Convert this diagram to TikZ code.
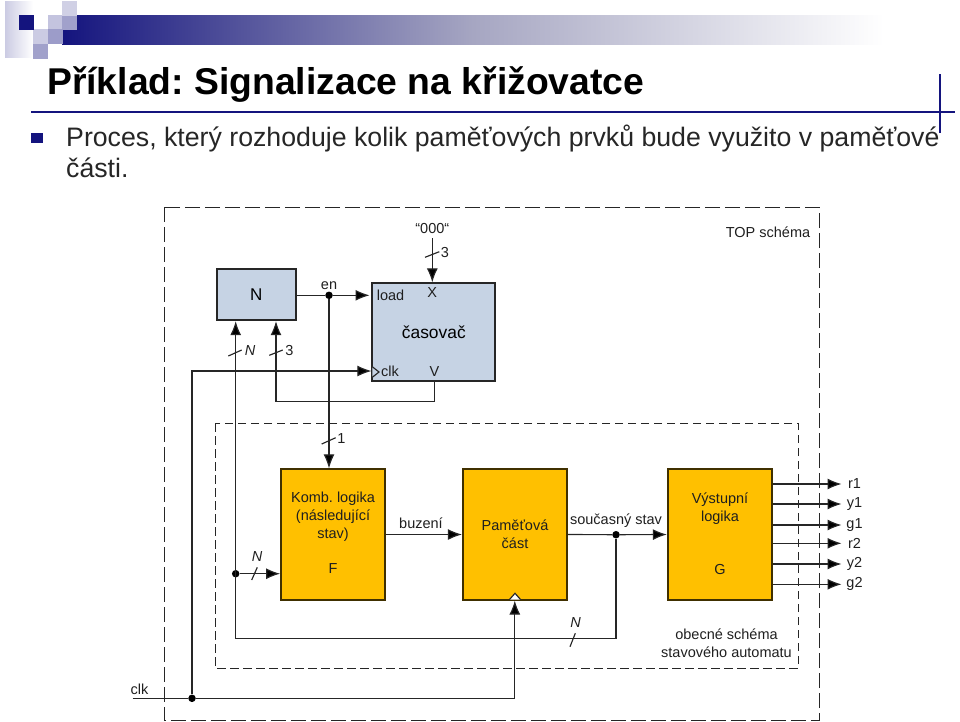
\documentclass[tikz,border=0pt]{standalone}
\usepackage{xcolor}
\usepackage{fontspec}
\setmainfont{Liberation Sans}
\frenchspacing
\usetikzlibrary{arrows.meta, positioning}

\definecolor{slidenavy}{HTML}{14147E}
\definecolor{bandmid}{HTML}{A6A6C2}
\definecolor{counterblue}{HTML}{C6D3E4}
\definecolor{logicorange}{HTML}{FFC000}
\definecolor{wiregray}{HTML}{262626}

\begin{document}
\begin{tikzpicture}[
    x=1pt, y=-1pt,
    block/.style={
        rectangle,
        draw=black!85,
        line width=1.8pt,
        inner sep=0pt,
        align=center
    },
    bluebox/.style={block, fill=counterblue},
    orangebox/.style={block, fill=logicorange, draw=black!75!logicorange, minimum width=104pt, minimum height=130.4pt},
    lbl/.style={inner sep=0pt, align=center, text=black!88, font=\fontsize{14.5}{18}\selectfont},
    ital/.style={lbl, font=\fontsize{14.5}{18}\selectfont\itshape},
    wire/.style={line width=1.15pt, draw=wiregray},
    arrow/.style={wire, -{Latex[length=14pt, width=11pt, fill=black]}},
    dot/.style={circle, fill=black, inner sep=0pt, minimum size=7.5pt},
    outerdash/.style={line width=1pt, draw=wiregray, dash pattern=on 15pt off 5pt},
    innerdash/.style={line width=1pt, draw=wiregray, dash pattern=on 8.5pt off 4.5pt}
]
\useasboundingbox (0,0) rectangle (960,721);

% slide header
\shade[left color=slidenavy, right color=white, middle color=bandmid] (62,15) rectangle (884,44);
\shade[left color=slidenavy!22!white, right color=white] (5,1) rectangle (33,57);
\foreach \xa/\ya/\shadecol in {48/15/25, 62/15/40, 62/1/20, 33/29/22, 48/29/42, 33/44/40}
    \fill[slidenavy!\shadecol!white] (\xa,\ya) rectangle ++(14.5,14.5);
\fill[slidenavy] (19,15) rectangle (33.5,29.5);
\draw[slidenavy, line width=1.8pt] (31,111.7) -- (955,111.7);
\draw[slidenavy, line width=1.8pt] (940,74) -- (940,133);
\fill[slidenavy] (31,132.5) rectangle (42.7,143.3);

\node[anchor=base west, inner sep=0pt, font=\fontsize{37.3}{40}\selectfont\bfseries] (title) at (47,94) {Příklad: Signalizace na křižovatce};
\node[anchor=base west, inner sep=0pt, font=\fontsize{26.7}{30}\selectfont, text=black!85] (line1) at (66,146) {Proces, který rozhoduje kolik paměťových prvků bude využito v paměťové};
\node[anchor=base west, inner sep=0pt, font=\fontsize{26.7}{30}\selectfont, text=black!85] (line2) at (66,177) {části.};

% frames
\draw[outerdash] (164,207) rectangle (819,720);
\draw[innerdash] (215,423) rectangle (798,668);

% top schema
\node[bluebox, minimum width=79pt, minimum height=51.5pt] (nblock) at (256.2,294.5) {\fontsize{17}{18}\selectfont N};
\node[bluebox, minimum width=123pt, minimum height=98pt] (timer) at (433.8,332.3) {\fontsize{17.4}{18}\selectfont časovač};

\node[lbl] (zeros) at (432.3,229) {“000“};
\node[lbl] (topname) at (768,232) {TOP schéma};
\node[lbl] (enlabel) at (329,285.5) {en};
\node[lbl] (loadpin) at (390.5,295) {load};
\node[lbl] (xpin) at (432.3,293) {X};
\node[lbl] (clkpin) at (390,371) {clk};
\node[lbl] (vpin) at (434.5,372) {V};
\node[lbl] (threea) at (445,252) {3};
\node[ital] (nup) at (250,351) {N};
\node[lbl] (threeb) at (289.5,350.5) {3};
\node[lbl] (onelabel) at (341.5,438.5) {1};

% general schema
\node[orangebox] (fblock) at (333,534.5) {};
\node[orangebox] (mem) at (514.8,534.5) {};
\node[orangebox] (gblock) at (719.7,534.5) {};

\node[lbl] (ftext) at (333,517) {Komb. logika\\(následující\\stav)};
\node[lbl] (fname) at (333,568.5) {F};
\node[lbl] (memtext) at (515,534.5) {Paměťová\\část};
\node[lbl] (gtext) at (720,508.5) {Výstupní\\logika};
\node[lbl] (gname) at (720,569) {G};
\node[lbl] (buzeni) at (421,523) {buzení};
\node[lbl] (stav) at (616,520.5) {současný stav};
\node[ital] (nin) at (257,556) {N};
\node[ital] (nfb) at (575.5,622) {N};
\node[lbl] (genname) at (726.5,643.5) {obecné schéma\\stavového automatu};
\node[lbl] (clkin) at (139.5,689) {clk};

% junctions and free ends
\node[dot] (enjoin) at (329,295.3) {};
\node[dot] (njoin) at (235.7,573.7) {};
\node[dot] (statejoin) at (616,534.7) {};
\node[dot] (clkjoin) at (192,698.3) {};
\coordinate (clkstart) at (132.5,698.3);
\coordinate (zerostart) at (432.3,238);
\coordinate (nfeed) at (235.7,638.7);
\coordinate (vturn) at (276,401.7);

% wires
\draw[arrow] (nblock.east |- enjoin) -- (enjoin) -- (369.5,295.3);
\draw[arrow] (enjoin) -- (fblock.north -| enjoin);
\draw[arrow] (zerostart) -- (timer.north -| zerostart);
\draw[arrow] (timer.south -| vpin) |- (vturn) -- (nblock.south -| vturn);
\draw[arrow] (clkjoin) |- (timer.west |- clkpin);
\draw[arrow] (nfeed) -- (nblock.south -| nfeed);
\draw[arrow] (njoin) -- (fblock.west |- njoin);
\draw[wire] (statejoin) |- (nfeed);
\draw[arrow] (clkstart) -- (clkjoin) -| (mem.south);
\draw[arrow] (fblock.east |- memtext) -- (mem.west |- memtext);
\draw[arrow] (mem.east |- memtext) -- (statejoin) -- (gblock.west |- memtext);

% outputs
\foreach \outname/\ypos in {r1/484, y1/504, g1/525, r2/543.3, y2/564, g2/584.3} {
    \node[lbl] (out\outname) at (854.5,\ypos) {\outname};
    \draw[arrow] (gblock.east |- out\outname) -- (841.5,\ypos);
}

% clock marks
\draw[wire, fill=counterblue] (372.3,366.7) -- (379,372) -- (372.3,377.3);
\draw[wire, fill=white] (509.3,599.7) -- (515,593.3) -- (520.7,599.7);

% bus slashes
\draw[wire] (425,257.3) -- (439.3,251.7);
\draw[wire] (228.3,356) -- (241.7,350);
\draw[wire] (269.3,355.3) -- (282.7,350);
\draw[wire] (321.7,444) -- (335.7,437.7);
\draw[wire] (251.7,580) -- (257.3,567.3);
\draw[wire] (570,646.7) -- (575.3,633.3);

\end{tikzpicture}
\end{document}
